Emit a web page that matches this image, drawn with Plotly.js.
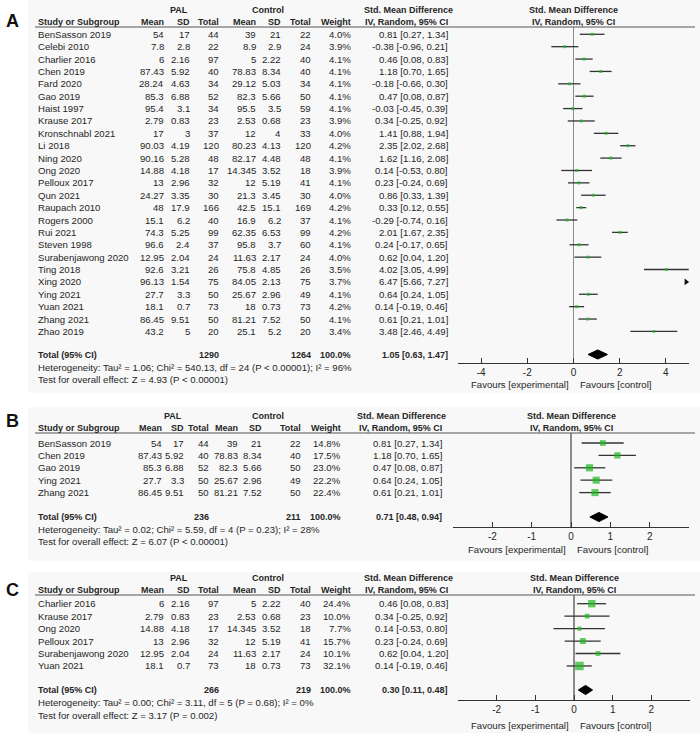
<!DOCTYPE html>
<html><head><meta charset="utf-8">
<script src="https://cdn.plot.ly/plotly-3.0.1.min.js"></script>
<style>html,body{margin:0;padding:0;background:#fff}#chart{width:700px;height:733px}</style>
</head><body><div id="chart"></div>
<script>
// ---------- DATA ----------
const studyA = ['BenSasson 2019','Celebi 2010','Charlier 2016','Chen 2019','Fard 2020','Gao 2019','Haist 1997','Krause 2017','Kronschnabl 2021','Li 2018','Ning 2020','Ong 2020','Pelloux 2017','Qun 2021','Raupach 2010','Rogers 2000','Rui 2021','Steven 1998','Surabenjawong 2020','Ting 2018','Xing 2020','Ying 2021','Yuan 2021','Zhang 2021','Zhao 2019'];
const palMean = [54,7.8,6,87.43,28.24,85.3,95.4,2.79,17,90.03,90.16,14.88,13,24.27,48,15.1,74.3,96.6,12.95,92.6,96.13,27.7,18.1,86.45,43.2];
const palSD   = [17,2.8,2.16,5.92,4.63,6.88,3.1,0.83,3,4.19,5.28,4.18,2.96,3.35,17.9,6.2,5.25,2.4,2.04,3.21,1.54,3.3,0.7,9.51,5];
const palN    = [44,22,97,40,34,52,34,23,37,120,48,17,32,30,166,40,99,37,24,26,75,50,73,50,20];
const ctlMean = [39,8.9,5,78.83,29.12,82.3,95.5,2.53,12,80.23,82.17,14.345,12,21.3,42.5,16.9,62.35,95.8,11.63,75.8,84.05,25.67,18,81.21,25.1];
const ctlSD   = [21,2.9,2.22,8.34,5.03,5.66,3.5,0.68,4,4.13,4.48,3.52,5.19,3.45,15.1,6.2,6.53,3.7,2.17,4.85,2.13,2.96,0.73,7.52,5.2];
const ctlN    = [22,24,40,40,34,50,59,23,33,120,48,18,41,30,169,37,99,60,24,26,75,49,73,50,20];
const weightA = [4.0,3.9,4.1,4.1,4.1,4.1,4.1,3.9,4.0,4.2,4.1,3.9,4.1,4.0,4.2,4.1,4.2,4.1,4.0,3.5,3.7,4.1,4.2,4.1,3.4];
const smd     = [0.81,-0.38,0.46,1.18,-0.18,0.47,-0.03,0.34,1.41,2.35,1.62,0.14,0.23,0.86,0.33,-0.29,2.01,0.24,0.62,4.02,6.47,0.64,0.14,0.61,3.48];
const smdLo   = [0.27,-0.96,0.08,0.70,-0.66,0.08,-0.45,-0.25,0.88,2.02,1.16,-0.53,-0.24,0.33,0.12,-0.74,1.67,-0.17,0.04,3.05,5.66,0.24,-0.19,0.21,2.46];
const smdHi   = [1.34,0.21,0.83,1.65,0.30,0.87,0.39,0.92,1.94,2.68,2.08,0.80,0.69,1.39,0.55,0.16,2.35,0.65,1.20,4.99,7.27,1.05,0.46,1.01,4.49];

const studyB  = ['BenSasson 2019','Chen 2019','Gao 2019','Ying 2021','Zhang 2021'];
const weightB = [14.8,17.5,23.0,22.2,22.4];
const studyC  = ['Charlier 2016','Krause 2017','Ong 2020','Pelloux 2017','Surabenjawong 2020','Yuan 2021'];
const weightC = [24.4,10.0,7.7,15.7,10.1,32.1];

const panelLetters = ['A','B','C'];
const totalPalN = [1290,236,266];
const totalCtlN = [1264,211,219];
const totalSmd  = [1.05,0.71,0.30];
const totalLo   = [0.63,0.48,0.11];
const totalHi   = [1.47,0.94,0.48];
const tau2 = [1.06,0.02,0.00];
const chi2 = [540.13,5.59,3.11];
const hetDf = [24,4,5];
const hetP = ['&lt; 0.00001','= 0.23','= 0.68'];
const i2 = [96,28,0];
const zVal = [4.93,6.07,3.17];
const zP = ['&lt; 0.00001','&lt; 0.00001','= 0.002'];
const axisRanges = [[-5,5],[-3,3],[-3,3]];
const tickVals = [[-4,-2,0,2,4],[-2,-1,0,1,2],[-2,-1,0,1,2]];

// ---------- LAYOUT CONSTANTS (pixels) ----------
const W = 700, H = 733;
const px = x => x / W, py = y => 1 - y / H;
const FONT = 'Arial, "Liberation Sans", sans-serif';
const TXT = '#262626';
const FS = 9.6, FSB = 9;
const colsWide = {mean:166, sd:192, n:221, cmean:258, csd:283, cn:313, w:353, smd:450};
const geo = [
  {letterY:21, h1Y:10, h2Y:22, underY:27, row0:34.3, dy:12.38, totalY:354.5, hetY:367, testY:379.5, axisY:363, favY:384,
   plotL:458, plotR:689, cols:colsWide, palX:179, ctlX:268, smdHdrX:408, bg:[28,0,700,393]},
  {letterY:421, h1Y:416, h2Y:428, underY:433, row0:443, dy:12.4, totalY:517, hetY:529, testY:541, axisY:527, favY:549,
   plotL:453, plotR:689, cols:{mean:164, sd:186, n:211, cmean:240, csd:264, cn:303, w:343, smd:444}, palX:173, ctlX:268, smdHdrX:401, bg:[28,407,700,561]},
  {letterY:590, h1Y:578, h2Y:590, underY:595, row0:603.7, dy:12.45, totalY:690, hetY:702.5, testY:715, axisY:700, favY:725,
   plotL:458, plotR:690, cols:colsWide, palX:179, ctlX:268, smdHdrX:408, bg:[28,572,700,733]}
];

const annotations = [], shapes = [], traces = [];
function ann(text, x, y, anchor, extra) {
  annotations.push(Object.assign({text:text, x:px(x), y:py(y), xref:'paper', yref:'paper',
    xanchor:anchor, yanchor:'middle', showarrow:false, font:{family:FONT, size:FS, color:TXT}}, extra || {}));
}
function bann(text, x, y, anchor) { ann('<b>' + text + '</b>', x, y, anchor, {font:{family:FONT, size:FSB, color:TXT}}); }
const fmtCI = (e,l,h) => e.toFixed(2) + ' [' + l.toFixed(2) + ', ' + h.toFixed(2) + ']';

const layout = {width:W, height:H, margin:{l:0,r:0,t:0,b:0}, paper_bgcolor:'#ffffff', plot_bgcolor:'rgba(0,0,0,0)',
  showlegend:false, annotations:annotations, shapes:shapes};

const panelStudies = [studyA, studyB, studyC];
const panelWeights = [weightA, weightB, weightC];

panelStudies.forEach((names, k) => {
  const G = geo[k], c = G.cols, rng = axisRanges[k];
  const ax = k === 0 ? '' : String(k + 1);
  const idx = names.map(n => studyA.indexOf(n));
  const wts = panelWeights[k];
  const zeroX = G.plotL + (0 - rng[0]) / (rng[1] - rng[0]) * (G.plotR - G.plotL);

  shapes.push({type:'rect', xref:'paper', yref:'paper', x0:px(G.bg[0]), x1:px(G.bg[2]), y0:py(G.bg[3]), y1:py(G.bg[1]),
    fillcolor:'#f8f8f8', line:{width:0}, layer:'below'});
  ann('<b>' + panelLetters[k] + '</b>', 4, G.letterY, 'left', {font:{family:FONT, size:18, color:'#111'}});

  bann('PAL', G.palX, G.h1Y, 'center');
  bann('Control', G.ctlX, G.h1Y, 'center');
  bann('Std. Mean Difference', G.smdHdrX, G.h1Y, 'center');
  bann('Std. Mean Difference', zeroX, G.h1Y, 'center');
  bann('Study or Subgroup', 36, G.h2Y, 'left');
  [['Mean',c.mean],['SD',c.sd],['Total',c.n],['Mean',c.cmean],['SD',c.csd],['Total',c.cn],['Weight',c.w],['IV, Random, 95% CI',c.smd]]
    .forEach(p => bann(p[0], p[1], G.h2Y, 'right'));
  bann('IV, Random, 95% CI', zeroX, G.h2Y, 'center');
  shapes.push({type:'line', xref:'paper', yref:'paper', x0:px(35), x1:px(695), y0:py(G.underY), y1:py(G.underY),
    line:{color:'#555', width:1}});

  idx.forEach((j, i) => {
    const y = G.row0 + i * G.dy;
    ann(studyA[j], 36, y, 'left');
    ann(String(palMean[j]), c.mean, y, 'right');
    ann(String(palSD[j]), c.sd, y, 'right');
    ann(String(palN[j]), c.n, y, 'right');
    ann(String(ctlMean[j]), c.cmean, y, 'right');
    ann(String(ctlSD[j]), c.csd, y, 'right');
    ann(String(ctlN[j]), c.cn, y, 'right');
    ann(wts[i].toFixed(1) + '%', c.w, y, 'right');
    ann(fmtCI(smd[j], smdLo[j], smdHi[j]), c.smd, y, 'right');
  });

  bann('Total (95% CI)', 36, G.totalY, 'left');
  bann(String(totalPalN[k]), c.n, G.totalY, 'right');
  bann(String(totalCtlN[k]), c.cn, G.totalY, 'right');
  bann('100.0%', c.w, G.totalY, 'right');
  bann(fmtCI(totalSmd[k], totalLo[k], totalHi[k]), c.smd, G.totalY, 'right');
  ann('Heterogeneity: Tau² = ' + tau2[k].toFixed(2) + '; Chi² = ' + chi2[k].toFixed(2) + ', df = ' + hetDf[k] +
      ' (P ' + hetP[k] + '); I² = ' + i2[k] + '%', 36, G.hetY, 'left');
  ann('Test for overall effect: Z = ' + zVal[k].toFixed(2) + ' (P ' + zP[k] + ')', 36, G.testY, 'left');
  ann('Favours [experimental]', zeroX - 3, G.favY, 'right');
  ann('Favours [control]', zeroX + 4, G.favY, 'left');

  // axes: rows in index units
  const yTop = (G.underY - G.row0) / G.dy, yBot = (G.axisY - G.row0) / G.dy;
  const totRow = (G.totalY - G.row0) / G.dy;
  layout['xaxis' + ax] = {domain:[px(G.plotL), px(G.plotR)], range:rng, anchor:'y' + ax,
    tickmode:'array', tickvals:tickVals[k], ticktext:tickVals[k].map(String),
    ticks:'inside', ticklen:5, tickcolor:'#333', tickwidth:1, showline:true, linecolor:'#333', linewidth:1,
    showgrid:false, zeroline:true, zerolinecolor:'#8c8c8c', zerolinewidth:1.5,
    tickfont:{family:FONT, size:10, color:TXT}, fixedrange:true};
  layout['yaxis' + ax] = {domain:[py(G.axisY), py(G.underY)], range:[yBot, yTop], anchor:'x' + ax,
    visible:false, showgrid:false, zeroline:false, fixedrange:true};

  const rows = idx.map((j, i) => i);
  traces.push({type:'scatter', mode:'markers', xaxis:'x' + ax, yaxis:'y' + ax,
    x: idx.map(j => smd[j]), y: rows,
    error_x:{type:'data', symmetric:false, array: idx.map(j => smdHi[j] - smd[j]), arrayminus: idx.map(j => smd[j] - smdLo[j]),
      color:'#333', thickness:1.3, width:0},
    marker:{symbol:'square', color:'#1fb51f', size: wts.map(w => 1.5 * Math.sqrt(w)), line:{width:0}},
    hoverinfo:'skip'});
  // off-scale arrows
  const offRows = rows.filter(i => smdLo[idx[i]] > rng[1]);
  if (offRows.length) {
    traces.push({type:'scatter', mode:'markers', xaxis:'x' + ax, yaxis:'y' + ax, cliponaxis:false,
      x: offRows.map(() => rng[1] * 0.975), y: offRows,
      marker:{symbol:'triangle-right', color:'#111', size:6}, hoverinfo:'skip'});
  }
  // pooled diamond
  const hh = 4.6 / G.dy;
  traces.push({type:'scatter', mode:'lines', xaxis:'x' + ax, yaxis:'y' + ax, fill:'toself',
    x:[totalLo[k], totalSmd[k], totalHi[k], totalSmd[k], totalLo[k]],
    y:[totRow, totRow - hh, totRow, totRow + hh, totRow],
    fillcolor:'#000', line:{color:'#000', width:1}, hoverinfo:'skip'});
});

Plotly.newPlot('chart', traces, layout, {displayModeBar:false, staticPlot:true});
</script>
</body></html>
